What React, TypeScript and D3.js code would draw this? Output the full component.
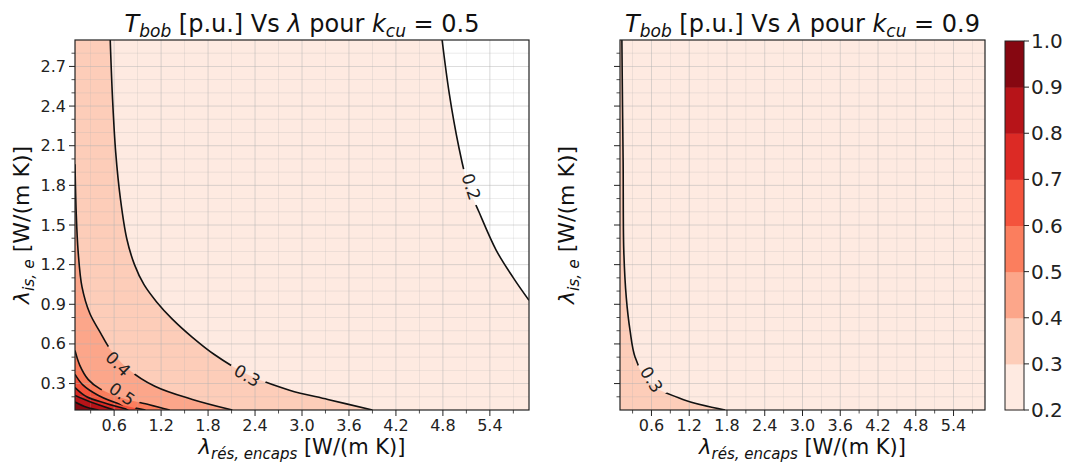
import React from 'react';
import * as d3 from 'd3';

// ---------- data ----------
const LEVELS = [0.2, 0.3, 0.4, 0.5, 0.6, 0.7, 0.8, 0.9, 1.0];
const X_TICKS = [0.6, 1.2, 1.8, 2.4, 3.0, 3.6, 4.2, 4.8, 5.4];
const X_MINOR = [0.3, 0.9, 1.5, 2.1, 2.7, 3.3, 3.9, 4.5, 5.1, 5.7];
const Y_TICKS = [0.3, 0.6, 0.9, 1.2, 1.5, 1.8, 2.1, 2.4, 2.7];
const Y_MINOR = [0.2, 0.4, 0.5, 0.7, 0.8, 1.0, 1.1, 1.3, 1.4, 1.6, 1.7, 1.9, 2.0, 2.2, 2.3, 2.5, 2.6, 2.8];
const X_DOMAIN = [0.1, 5.9];
const Y_DOMAIN = [0.1, 2.9];
const KCU = ['0.5', '0.9'];

// iso-lines, k_cu = 0.5  ([λ_rés, λ_is] pairs)
const K05_L02 = [[4.79, 2.9], [4.88, 2.5], [5.0, 2.1], [5.12, 1.8], [5.26, 1.6], [5.48, 1.31], [5.7, 1.1], [5.9, 0.93]];
const K05_L03 = [[0.55, 2.9], [0.58, 2.45], [0.62, 2.05], [0.68, 1.7], [0.76, 1.4], [0.86, 1.2], [0.98, 1.05], [1.14, 0.92], [1.34, 0.79], [1.6, 0.65], [1.88, 0.52], [2.3, 0.37], [2.84, 0.25], [3.33, 0.18], [3.9, 0.1]];
const K05_L04 = [[0.1, 1.96], [0.115, 1.6], [0.14, 1.3], [0.19, 1.03], [0.29, 0.83], [0.42, 0.69], [0.55, 0.56], [0.78, 0.41], [1.12, 0.28], [1.6, 0.18], [2.11, 0.1]];
const K05_L05 = [[0.1, 0.55], [0.16, 0.44], [0.27, 0.33], [0.42, 0.26], [0.7, 0.19], [1.05, 0.14], [1.31, 0.1]];
const K05_L06 = [[0.1, 0.37], [0.2, 0.29], [0.4, 0.21], [0.7, 0.14], [1.0, 0.1]];
const K05_L07 = [[0.1, 0.27], [0.25, 0.2], [0.5, 0.15], [0.8, 0.1]];
const K05_L08 = [[0.1, 0.21], [0.3, 0.16], [0.6, 0.1]];
const K05_L09 = [[0.1, 0.16], [0.25, 0.12], [0.4, 0.1]];

// k_cu = 0.9
const K09_L03 = [[0.13, 2.9], [0.14, 2.4], [0.15, 1.97], [0.16, 1.31], [0.2, 0.95], [0.26, 0.7], [0.34, 0.5], [0.55, 0.31], [1.1, 0.18], [1.77, 0.1]];

const K05_LINES = [
  { level: 0.2, pts: K05_L02 },
  { level: 0.3, pts: K05_L03 },
  { level: 0.4, pts: K05_L04 },
  { level: 0.5, pts: K05_L05 },
  { level: 0.6, pts: K05_L06 },
  { level: 0.7, pts: K05_L07 },
  { level: 0.8, pts: K05_L08 },
  { level: 0.9, pts: K05_L09 },
];
const K09_LINES = [{ level: 0.3, pts: K09_L03 }];

// inline labels
const K05_LABELS = [
  { text: '0.2', x: 5.16, y: 1.79, angle: 72 },
  { text: '0.3', x: 2.3, y: 0.36, angle: 30 },
  { text: '0.4', x: 0.65, y: 0.45, angle: 45 },
  { text: '0.5', x: 0.7, y: 0.22, angle: 35 },
];
const K09_LABELS = [{ text: '0.3', x: 0.6, y: 0.33, angle: 58 }];

// lowest filled level of the background (null = below 0.2, left white)
const K05_BASE: number | null = null;
const K09_BASE: number | null = 0.2;

// ---------- layout ----------
const W = 1067;
const H = 463;
const TOP = 40;
const BOTTOM = 410;
const FONT = 'DejaVu Sans, Verdana, sans-serif';

const bandColor = (lv: number) => {
  const i = Math.round((lv - LEVELS[0]) * 10);
  return d3.interpolateReds((i + 0.5) / (LEVELS.length - 1));
};

function Panel({ id, left, right, lines, labels, base, kcu, yLabels }: any) {
  const xs = d3.scaleLinear().domain(X_DOMAIN).range([left, right]);
  const ys = d3.scaleLinear().domain(Y_DOMAIN).range([BOTTOM, TOP]);
  const line = d3
    .line<number[]>()
    .x((d) => xs(d[0]))
    .y((d) => ys(d[1]))
    .curve(d3.curveCatmullRom.alpha(0.5));
  const [x0] = X_DOMAIN;
  const [y0] = Y_DOMAIN;
  const fill = (pts: number[][]) => {
    const s = pts[0];
    const e = pts[pts.length - 1];
    return (
      line(pts) +
      `L${xs(e[0])},${ys(y0)}L${xs(x0)},${ys(y0)}L${xs(x0)},${ys(s[1])}Z`
    );
  };
  const cx = (left + right) / 2;
  const cy = (TOP + BOTTOM) / 2;
  return (
    <g>
      <defs>
        <clipPath id={`clip-${id}`}>
          <rect x={left} y={TOP} width={right - left} height={BOTTOM - TOP} />
        </clipPath>
        <mask id={`mask-${id}`} maskUnits="userSpaceOnUse" x={0} y={0} width={W} height={H}>
          <rect x={0} y={0} width={W} height={H} fill="white" />
          {labels.map((l: any, i: number) => (
            <rect
              key={i}
              x={-19}
              y={-9}
              width={38}
              height={18}
              fill="black"
              transform={`translate(${xs(l.x)},${ys(l.y)}) rotate(${l.angle})`}
            />
          ))}
        </mask>
      </defs>
      <g clipPath={`url(#clip-${id})`}>
        <rect
          x={left}
          y={TOP}
          width={right - left}
          height={BOTTOM - TOP}
          fill={base == null ? 'white' : bandColor(base)}
        />
        {lines.map((c: any) => (
          <path key={c.level} d={fill(c.pts)} fill={bandColor(c.level)} />
        ))}
        {/* grid */}
        {X_MINOR.map((t) => (
          <line key={'xm' + t} x1={xs(t)} x2={xs(t)} y1={TOP} y2={BOTTOM} stroke="#b0b0b0" strokeWidth={0.6} opacity={0.4} />
        ))}
        {Y_MINOR.map((t) => (
          <line key={'ym' + t} x1={left} x2={right} y1={ys(t)} y2={ys(t)} stroke="#b0b0b0" strokeWidth={0.6} opacity={0.4} />
        ))}
        {X_TICKS.map((t) => (
          <line key={'xg' + t} x1={xs(t)} x2={xs(t)} y1={TOP} y2={BOTTOM} stroke="#b0b0b0" strokeWidth={0.8} opacity={0.6} />
        ))}
        {Y_TICKS.map((t) => (
          <line key={'yg' + t} x1={left} x2={right} y1={ys(t)} y2={ys(t)} stroke="#b0b0b0" strokeWidth={0.8} opacity={0.6} />
        ))}
        <g mask={`url(#mask-${id})`}>
          {lines.map((c: any) => (
            <path key={'l' + c.level} d={line(c.pts) || ''} fill="none" stroke="#111" strokeWidth={1.6} />
          ))}
        </g>
      </g>
      {labels.map((l: any, i: number) => (
        <text
          key={i}
          transform={`translate(${xs(l.x)},${ys(l.y)}) rotate(${l.angle})`}
          textAnchor="middle"
          dominantBaseline="central"
          fontSize={17}
          fontFamily={FONT}
          fill="#222"
        >
          {l.text}
        </text>
      ))}
      <rect x={left} y={TOP} width={right - left} height={BOTTOM - TOP} fill="none" stroke="#222" strokeWidth={1.2} />
      {/* x ticks */}
      {X_TICKS.map((t) => (
        <g key={'xt' + t}>
          <line x1={xs(t)} x2={xs(t)} y1={BOTTOM} y2={BOTTOM + 6} stroke="#222" strokeWidth={1} />
          <text x={xs(t)} y={431} textAnchor="middle" fontSize={16} fontFamily={FONT} fill="#222">
            {d3.format('.1f')(t)}
          </text>
        </g>
      ))}
      {X_MINOR.map((t) => (
        <line key={'xmt' + t} x1={xs(t)} x2={xs(t)} y1={BOTTOM} y2={BOTTOM + 3.5} stroke="#222" strokeWidth={0.8} />
      ))}
      {Y_TICKS.map((t) => (
        <g key={'yt' + t}>
          <line x1={left - 6} x2={left} y1={ys(t)} y2={ys(t)} stroke="#222" strokeWidth={1} />
          {yLabels && (
            <text x={left - 9} y={ys(t)} textAnchor="end" dominantBaseline="central" fontSize={16} fontFamily={FONT} fill="#222">
              {d3.format('.1f')(t)}
            </text>
          )}
        </g>
      ))}
      {Y_MINOR.map((t) => (
        <line key={'ymt' + t} x1={left - 3.5} x2={left} y1={ys(t)} y2={ys(t)} stroke="#222" strokeWidth={0.8} />
      ))}
      {/* title */}
      <text x={cx} y={32} textAnchor="middle" fontSize={24} fontFamily={FONT} fill="#111" style={{ whiteSpace: 'pre' }}>
        <tspan fontStyle="italic">T</tspan>
        <tspan fontStyle="italic" fontSize={17} dy={5}>bob</tspan>
        <tspan dy={-5}> [p.u.] Vs </tspan>
        <tspan fontStyle="italic">λ</tspan>
        <tspan> pour </tspan>
        <tspan fontStyle="italic">k</tspan>
        <tspan fontStyle="italic" fontSize={17} dy={5}>cu</tspan>
        <tspan dy={-5}>{' = ' + kcu}</tspan>
      </text>
      {/* x label */}
      <text x={cx} y={454} textAnchor="middle" fontSize={21} fontFamily={FONT} fill="#111" style={{ whiteSpace: 'pre' }}>
        <tspan fontStyle="italic">λ</tspan>
        <tspan fontStyle="italic" fontSize={15} dy={5}>rés, encaps</tspan>
        <tspan dy={-5}> [W/(m K)]</tspan>
      </text>
      {/* y label */}
      <text
        transform={`translate(${left - 46},${cy}) rotate(-90)`}
        textAnchor="middle"
        fontSize={22}
        fontFamily={FONT}
        fill="#111"
        style={{ whiteSpace: 'pre' }}
      >
        <tspan fontStyle="italic">λ</tspan>
        <tspan fontStyle="italic" fontSize={15.5} dy={5}>is, e</tspan>
        <tspan dy={-5}> [W/(m K)]</tspan>
      </text>
    </g>
  );
}

function Colorbar() {
  const x0 = 1005;
  const x1 = 1024;
  const cs = d3.scaleLinear().domain([LEVELS[0], LEVELS[LEVELS.length - 1]]).range([410, 41]);
  return (
    <g>
      {LEVELS.slice(0, -1).map((lv, i) => (
        <rect key={lv} x={x0} y={cs(LEVELS[i + 1])} width={x1 - x0} height={cs(lv) - cs(LEVELS[i + 1]) + 0.5} fill={bandColor(lv)} />
      ))}
      <rect x={x0} y={cs(1.0)} width={x1 - x0} height={cs(0.2) - cs(1.0)} fill="none" stroke="#222" strokeWidth={1} />
      {LEVELS.map((lv) => (
        <g key={'c' + lv}>
          <line x1={x1} x2={x1 + 5} y1={cs(lv)} y2={cs(lv)} stroke="#222" strokeWidth={1} />
          <text x={x1 + 7} y={cs(lv)} dominantBaseline="central" fontSize={20} fontFamily={FONT} fill="#222">
            {d3.format('.1f')(lv)}
          </text>
        </g>
      ))}
    </g>
  );
}

export default function App() {
  return (
    <svg width={W} height={H} style={{ position: 'absolute', left: 0, top: 0, background: 'white' }}>
      <rect x={0} y={0} width={W} height={H} fill="white" />
      <Panel id="a" left={75} right={529} lines={K05_LINES} labels={K05_LABELS} base={K05_BASE} kcu={KCU[0]} yLabels={true} />
      <Panel id="b" left={620} right={985} lines={K09_LINES} labels={K09_LABELS} base={K09_BASE} kcu={KCU[1]} yLabels={false} />
      <Colorbar />
    </svg>
  );
}
